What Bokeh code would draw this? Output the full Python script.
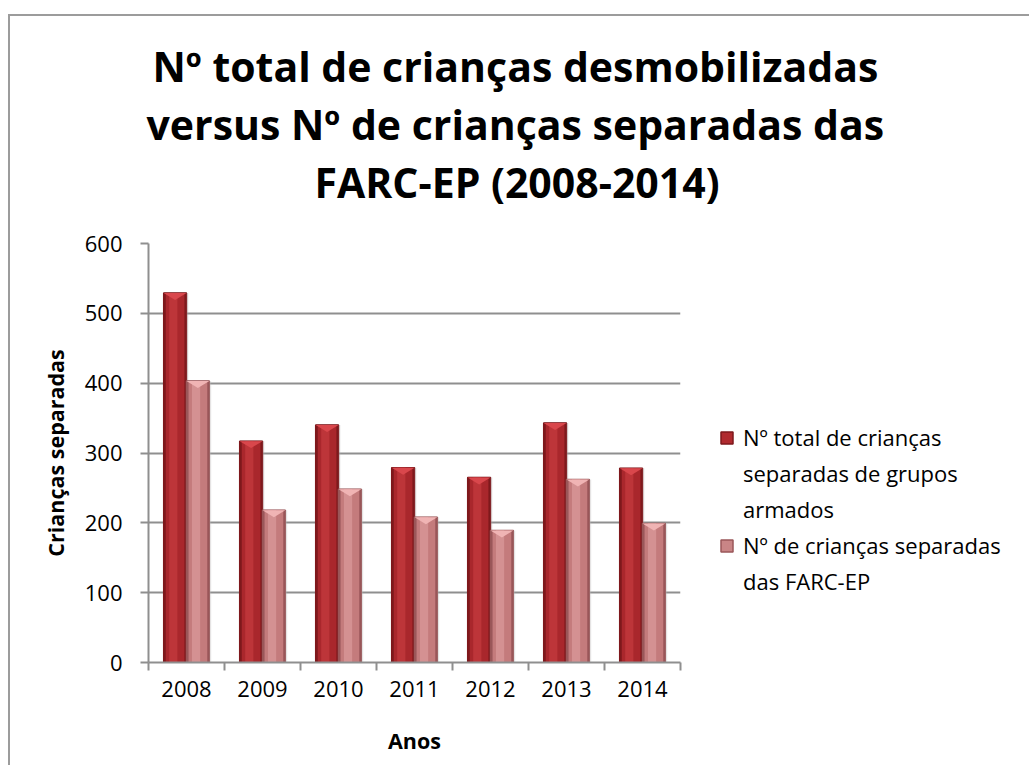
from bokeh.plotting import figure
from bokeh.models import Title, Legend, LegendItem, FixedTicker, ColumnDataSource
from bokeh.embed import file_html
from bokeh.resources import INLINE

# ---- data ----
years = ["2008", "2009", "2010", "2011", "2012", "2013", "2014"]
total_separated = [529, 317, 340, 279, 265, 343, 278]
farc_separated = [403, 218, 248, 208, 189, 262, 199]
series1_lines = ["Nº total de crianças", "separadas de grupos", "armados"]
series2_lines = ["Nº de crianças separadas", "das FARC-EP"]
title_lines = ["Nº total de crianças desmobilizadas",
               "versus Nº de crianças separadas das",
               "FARC-EP (2008-2014)"]
y_ticks = [0, 100, 200, 300, 400, 500, 600]
x_label = "Anos"
y_label = "Crianças separadas"

FONT = "Open Sans"
GRID = "#8f8f8f"

n = len(years)
centers = [i + 0.5 for i in range(n)]
bounds = [float(i) for i in range(n + 1)]
BW = 0.30
BEVEL = 10  # bevel depth in value units

p = figure(frame_width=532, frame_height=419,
           min_border_left=138, min_border_right=336,
           min_border_top=227, min_border_bottom=103,
           x_range=(0, n), y_range=(0, 600),
           output_backend="svg", toolbar_location=None)
p.styles = {"border-left": "2px solid #9c9c9c", "border-top": "2px solid #9c9c9c",
            "margin-left": "8px", "margin-top": "14px"}
p.outline_line_color = None
p.background_fill_color = "white"
p.border_fill_color = "white"


def series(vals, offset, cols, bevel_col, legend_cols):
    xs = [c + offset for c in centers]
    src = ColumnDataSource(dict(x=xs, top=vals))
    # hidden underneath the bar; used only for the legend swatch
    leg = p.vbar(x="x", top="top", width=BW, bottom=0, source=src,
                 fill_color=legend_cols[0], line_color=legend_cols[1], line_width=1.5)
    p.vbar(x=[x + 0.025 for x in xs], top=vals, width=BW, bottom=0,
           fill_color="#bdbdbd", fill_alpha=0.35, line_color=None)
    p.vbar(x="x", top="top", width=BW, bottom=0, source=src,
           fill_color=cols[0], line_color=cols[0], line_width=0.5)
    p.vbar(x="x", top="top", width=BW * 0.82, bottom=0, source=src,
           fill_color=cols[1], line_color=None)
    p.vbar(x=[x - BW * 0.08 for x in xs], top=vals, width=BW * 0.36, bottom=0,
           fill_color=cols[2], line_color=None)
    pxs = [[x - BW / 2, x + BW / 2, x] for x in xs]
    pys = [[v, v, v - BEVEL] for v in vals]
    p.patches(pxs, pys, fill_color=bevel_col, line_color=None)
    return leg


leg_r1 = series(total_separated, -BW / 2, ["#7e191c", "#a9272c", "#bd3539"], "#d9474c",
                ["#b02a2f", "#7e191c"])
leg_r2 = series(farc_separated, BW / 2, ["#9a5759", "#c47b7c", "#d49192"], "#f0b4b4",
                ["#c98586", "#9a5759"])
leg_blank = p.vbar(x=[], top=[], width=BW, fill_alpha=0, line_alpha=0)

# grid
p.xgrid.visible = False
p.ygrid.grid_line_color = GRID
p.ygrid.grid_line_width = 2
p.ygrid.ticker = FixedTicker(ticks=y_ticks)

# axes
for ax in (p.xaxis[0], p.yaxis[0]):
    ax.axis_line_color = GRID
    ax.axis_line_width = 2
    ax.major_label_text_font = FONT
    ax.major_label_text_font_size = "22px"
    ax.major_label_text_color = "black"
    ax.axis_label_text_font = FONT
    ax.axis_label_text_font_style = "bold"
    ax.axis_label_text_font_size = "21.5px"
    ax.axis_label_text_color = "black"

xa = p.xaxis[0]
xa.ticker = FixedTicker(ticks=centers, minor_ticks=bounds)
xa.major_label_overrides = {c: y for c, y in zip(centers, years)}
xa.major_tick_out = 0
xa.major_tick_in = 0
xa.minor_tick_out = 8
xa.minor_tick_in = 0
xa.minor_tick_line_color = GRID
xa.minor_tick_line_width = 2
xa.major_label_standoff = 10
xa.axis_label = x_label
xa.axis_label_standoff = 26

ya = p.yaxis[0]
ya.ticker = FixedTicker(ticks=y_ticks)
ya.major_tick_out = 8
ya.major_tick_in = 0
ya.major_tick_line_color = GRID
ya.major_tick_line_width = 2
ya.minor_tick_out = 0
ya.minor_tick_in = 0
ya.major_label_standoff = 18
ya.axis_label = y_label
ya.axis_label_standoff = 12

# title: spacer nearest the frame, then the three lines upward
p.add_layout(Title(text=" ", text_font=FONT, text_font_size="23.5px", standoff=0), "above")
title_offsets = [4, -2, 166]
for txt, off in reversed(list(zip(title_lines, title_offsets))):
    p.add_layout(Title(text=txt, align="left", offset=off,
                       text_font=FONT, text_font_style="bold",
                       text_font_size="41px", text_color="black",
                       standoff=0), "above")

items = [LegendItem(label=series1_lines[0], renderers=[leg_r1])]
items += [LegendItem(label=t, renderers=[leg_blank]) for t in series1_lines[1:]]
items += [LegendItem(label=series2_lines[0], renderers=[leg_r2])]
items += [LegendItem(label=t, renderers=[leg_blank]) for t in series2_lines[1:]]

legend = Legend(items=items, location=(39, 63), orientation="vertical")
legend.border_line_color = None
legend.background_fill_alpha = 0
legend.padding = 0
legend.margin = 0
legend.spacing = 0
legend.label_height = 36
legend.glyph_width = 15
legend.glyph_height = 15
legend.label_standoff = 9
legend.label_text_font = FONT
legend.label_text_font_size = "22px"
legend.label_text_color = "black"
p.add_layout(legend, "right")

open("out.html", "w").write(file_html(p, INLINE))
